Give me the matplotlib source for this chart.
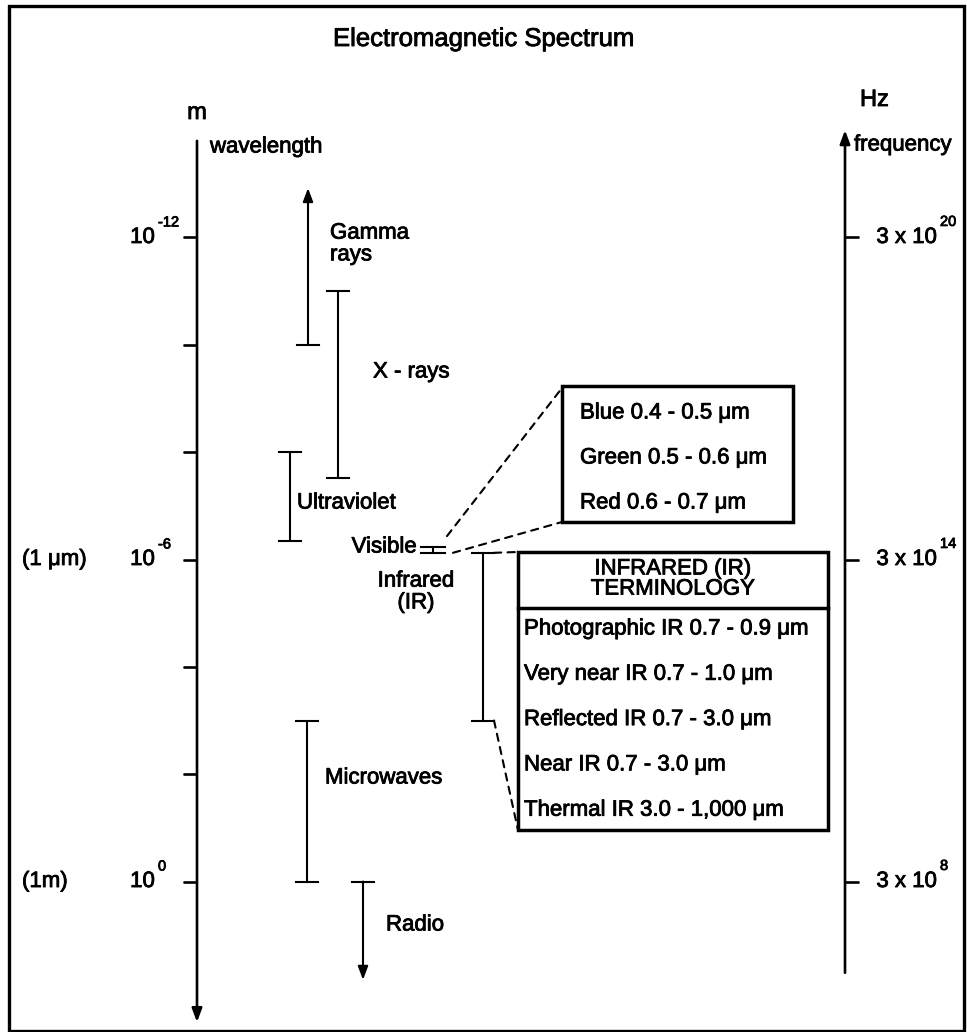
import numpy as np
import matplotlib
matplotlib.use("Agg")
import matplotlib.pyplot as plt
from matplotlib.patches import Rectangle, ConnectionPatch
import matplotlib.patheffects as pe

plt.rcParams['font.family'] = ['Liberation Sans', 'DejaVu Sans']

# ---------------- data ----------------
title = "Electromagnetic Spectrum"
band_names = ["Gamma\nrays", "X - rays", "Ultraviolet", "Visible", "Infrared\n(IR)", "Microwaves", "Radio"]
band_short_m = [1.2e-13, 1e-11, 1e-8, 5.8e-7, 7.5e-7, 1e-3, 1e0]     # short-wavelength end
band_long_m = [1e-10, 3e-8, 4.5e-7, 7.5e-7, 1e-3, 1e0, 68.0]        # long-wavelength end
band_open = ["short", None, None, None, None, None, "long"]          # open (arrow) end

wl_tick_exp = [-12, -10, -8, -6, -4, -2, 0]
wl_label_exp = [-12, -6, 0]
wl_alt_labels = ["", "(1 \u03bcm)", "(1m)"]
freq_ticks_hz = [3e20, 3e14, 3e8]
freq_tick_exp = ["20", "14", "8"]
speed_of_light = 3e8

visible_colors = ["Blue", "Green", "Red"]
visible_ranges = ["0.4 - 0.5", "0.5 - 0.6", "0.6 - 0.7"]
ir_terms = ["Photographic IR", "Very near IR", "Reflected IR", "Near IR", "Thermal IR"]
ir_ranges = ["0.7 - 0.9", "0.7 - 1.0", "0.7 - 3.0", "0.7 - 3.0", "3.0 - 1,000"]

# ---------------- layout ----------------
W, H = 967, 1032
fig = plt.figure(figsize=(W / 100, H / 100), dpi=100)
lay = fig.add_axes([0, 0, 1, 1])
lay.set_xlim(0, W); lay.set_ylim(H, 0); lay.axis('off')
ax = fig.add_axes([0, 0, 1, 1])
ax.patch.set_alpha(0)
ax.set_xlim(0, W)
PX_PER_DEC = 53.67
Y_1UM = 559.5
ax.set_ylim(-6 + (H - Y_1UM) / PX_PER_DEC, -6 - Y_1UM / PX_PER_DEC)
ax.axis('off')

FS = 16
heavy = [pe.withStroke(linewidth=0.6, foreground='k')]
plt.rcParams['path.effects'] = heavy
lw_axis, lw_bar, lw_box = 1.9, 1.5, 2.5
ahead = "-|>,head_length=0.8,head_width=0.3"

def arrow(a, x, y0, y1, lw):
    a.annotate("", xy=(x, y1), xytext=(x, y0),
               arrowprops=dict(arrowstyle=ahead, lw=lw, color='k',
                               shrinkA=0, shrinkB=0))

# outer border
lay.add_patch(Rectangle((9, 6), 955, 1025, fill=False, lw=2.4, ec='k'))
lay.text(484, 39, title, ha='center', va='center', fontsize=18.5)

# ---- wavelength axis (left) ----
AXL = 197
arrow(ax, AXL, -13.8, 2.62, lw_axis)
for e in wl_tick_exp:
    ax.plot([AXL - 14, AXL], [e, e], color='k', lw=lw_axis, solid_capstyle='butt')
for e, alt in zip(wl_label_exp, wl_alt_labels):
    ax.text(155, e, "10", ha='right', va='center', fontsize=FS)
    ax.text(158, e - 0.28, str(e), ha='left', va='center', fontsize=10.5)
    if alt:
        ax.text(22, e, alt, ha='left', va='center', fontsize=FS)
lay.text(AXL, 113, "m", ha='center', va='center', fontsize=17)
lay.text(210, 147, "wavelength", ha='left', va='center', fontsize=FS)

# ---- frequency axis (right) ----
AXR = 845
ax.annotate("", xy=(AXR, -14.0), xytext=(AXR, 1.7),
            arrowprops=dict(arrowstyle=ahead, lw=lw_axis, color='k', shrinkA=0, shrinkB=0))
for f, ex in zip(freq_ticks_hz, freq_tick_exp):
    lw_ = np.log10(speed_of_light / f)
    ax.plot([AXR, AXR + 14], [lw_, lw_], color='k', lw=lw_axis, solid_capstyle='butt')
    ax.text(AXR + 92, lw_, "3 x 10", ha='right', va='center', fontsize=FS)
    ax.text(AXR + 95, lw_ - 0.29, ex, ha='left', va='center', fontsize=10.5)
lay.text(860, 100, "Hz", ha='left', va='center', fontsize=17)
lay.text(854, 145, "frequency", ha='left', va='center', fontsize=FS)

# ---- spectral bands ----
band_x = [308, 338, 290, 433, 483, 307, 363]
cap = 11
label_pos = [(330, 244, 'left'), (373, 372, 'left'), (297, 503, 'left'),
             (417, 547, 'right'), (416, 592, 'center'), (325, 778, 'left'),
             (386, 925, 'left')]
for name, s, l, op, x, (tx, ty, ha) in zip(band_names, band_short_m, band_long_m,
                                           band_open, band_x, label_pos):
    ys, yl = np.log10(s), np.log10(l)
    if op == "short":
        arrow(ax, x, yl, ys, lw_bar)
        ax.plot([x - cap, x + cap], [yl, yl], color='k', lw=lw_bar)
    elif op == "long":
        arrow(ax, x, ys, yl, lw_bar)
        ax.plot([x - cap, x + cap], [ys, ys], color='k', lw=lw_bar)
    else:
        c = cap + 1 if name == "Visible" else cap
        ax.plot([x, x], [ys, yl], color='k', lw=lw_bar)
        ax.plot([x - c, x + c], [ys, ys], color='k', lw=lw_bar)
        ax.plot([x - c, x + c], [yl, yl], color='k', lw=lw_bar)
    lay.text(tx, ty, name, ha=ha, va='center', fontsize=FS, linespacing=1.05,
             multialignment='center' if ha == 'center' else 'left')

# ---- Visible detail box ----
VB = (562, 386, 793, 522)
lay.add_patch(Rectangle((VB[0], VB[1]), VB[2] - VB[0], VB[3] - VB[1],
                        fill=False, lw=lw_box, ec='k', zorder=3))
for i, (c, r) in enumerate(zip(visible_colors, visible_ranges)):
    lay.text(580, 413 + i * 45, f"{c} {r} \u03bcm", ha='left', va='center', fontsize=FS)

vis_i = band_names.index("Visible")
dash = dict(ls=(0, (3.5, 3)), lw=1.5, color='k')
for (xa, ya), (xb, yb) in [((band_x[vis_i] + 14, np.log10(band_short_m[vis_i]) - 0.2), (VB[0], VB[1] + 2)),
                           ((band_x[vis_i] + 20, np.log10(band_long_m[vis_i])), (VB[0], VB[3]))]:
    fig.add_artist(ConnectionPatch((xa, ya), (xb, yb), coordsA=ax.transData,
                                   coordsB=lay.transData, **dash))

# ---- IR terminology box ----
IB = (518, 552, 828, 830)
lay.add_patch(Rectangle((IB[0], IB[1]), IB[2] - IB[0], IB[3] - IB[1],
                        fill=False, lw=lw_box, ec='k', zorder=3))
lay.plot([IB[0], IB[2]], [608, 608], color='k', lw=lw_box)
lay.text((IB[0] + IB[2]) / 2, 579, "INFRARED (IR)\nTERMINOLOGY", ha='center',
         va='center', fontsize=FS, linespacing=0.95)
for i, (t, r) in enumerate(zip(ir_terms, ir_ranges)):
    lay.text(524, 629 + i * 45.3, f"{t} {r} \u03bcm", ha='left', va='center', fontsize=FS)

ir_i = band_names.index("Infrared\n(IR)")
for (xa, ya), (xb, yb) in [((band_x[ir_i] + cap, np.log10(band_short_m[ir_i])), (IB[0], IB[1])),
                           ((band_x[ir_i] + cap, np.log10(band_long_m[ir_i])), (IB[0], IB[3]))]:
    fig.add_artist(ConnectionPatch((xa, ya), (xb, yb), coordsA=ax.transData,
                                   coordsB=lay.transData, **dash))

fig.savefig("out.png", dpi=100)
